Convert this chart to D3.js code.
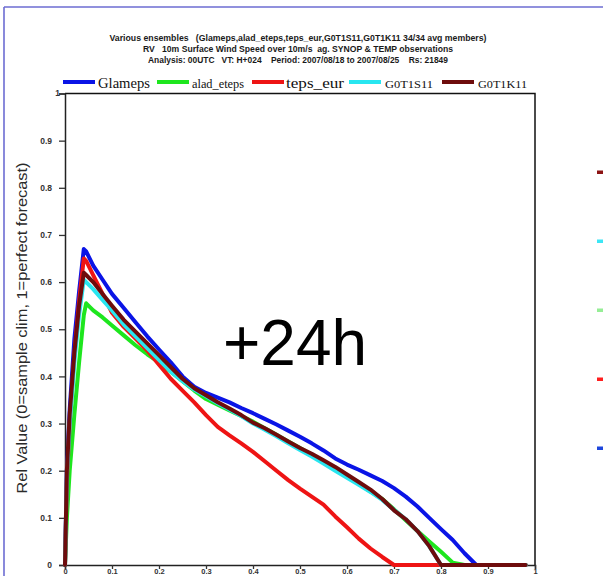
<!DOCTYPE html>
<html>
<head>
<meta charset="utf-8">
<script src="https://cdn.jsdelivr.net/npm/d3@7"></script>
<style>
  html, body { margin: 0; padding: 0; background: #ffffff; }
  svg { display: block; }
  text.pre { white-space: pre; }
</style>
</head>
<body>
<svg id="chart" width="603" height="576"></svg>
<script>
// ---------------- data ----------------
const titleLines = [
  "Various ensembles   (Glameps,alad_eteps,teps_eur,G0T1S11,G0T1K11 34/34 avg members)",
  "RV   10m Surface Wind Speed over 10m/s  ag. SYNOP & TEMP observations",
  "Analysis: 00UTC   VT: H+024    Period: 2007/08/18 to 2007/08/25    Rs: 21849"
];
const seriesNames = ["Glameps", "alad_eteps", "teps_eur", "G0T1S11", "G0T1K11"];
const seriesColors = ["#0a14e6", "#1ee61e", "#ee1414", "#28e6f0", "#6e0c0c"];
const xCost = [0, 0.004, 0.01, 0.02, 0.03, 0.04, 0.045, 0.06, 0.08, 0.1,
  0.125, 0.15, 0.175, 0.2, 0.225, 0.25, 0.275, 0.3, 0.325, 0.35,
  0.375, 0.4, 0.425, 0.45, 0.475, 0.5, 0.525, 0.55, 0.575, 0.6,
  0.625, 0.65, 0.675, 0.7, 0.725, 0.75, 0.775, 0.8, 0.825, 0.85,
  0.875, 0.9, 0.925, 0.95, 0.98];
const yGlameps = [0, 0.2, 0.33, 0.48, 0.58, 0.67, 0.665, 0.635, 0.605, 0.575,
  0.545, 0.515, 0.485, 0.457, 0.43, 0.40, 0.378, 0.365, 0.355, 0.345,
  0.333, 0.322, 0.31, 0.298, 0.285, 0.272, 0.258, 0.243, 0.226, 0.213,
  0.202, 0.19, 0.178, 0.163, 0.145, 0.124, 0.1, 0.076, 0.053, 0.025,
  0, 0, 0, 0, 0];
const yAlad = [0, 0.1, 0.2, 0.32, 0.43, 0.53, 0.555, 0.54, 0.525, 0.508,
  0.487, 0.466, 0.447, 0.43, 0.41, 0.39, 0.37, 0.352, 0.34, 0.328,
  0.316, 0.304, 0.29, 0.276, 0.262, 0.248, 0.234, 0.218, 0.202, 0.188,
  0.172, 0.156, 0.14, 0.118, 0.095, 0.072, 0.05, 0.028, 0.005, 0,
  0, 0, 0, 0, 0];
const yTeps = [0, 0.18, 0.3, 0.45, 0.56, 0.65, 0.645, 0.615, 0.575, 0.535,
  0.505, 0.48, 0.455, 0.425, 0.395, 0.37, 0.345, 0.318, 0.293, 0.275,
  0.258, 0.24, 0.22, 0.2, 0.18, 0.162, 0.145, 0.128, 0.103, 0.08,
  0.056, 0.035, 0.017, 0, 0, 0, 0, 0, 0, 0,
  0, 0, 0, 0, 0];
const yS11 = [0, 0.19, 0.3, 0.43, 0.53, 0.605, 0.6, 0.585, 0.562, 0.54,
  0.51, 0.485, 0.46, 0.435, 0.41, 0.39, 0.372, 0.358, 0.343, 0.33,
  0.316, 0.3, 0.287, 0.273, 0.258, 0.244, 0.23, 0.215, 0.2, 0.185,
  0.17, 0.155, 0.138, 0.117, 0.097, 0.072, 0.04, 0, 0, 0,
  0, 0, 0, 0, 0];
const yK11 = [0, 0.2, 0.32, 0.45, 0.55, 0.62, 0.615, 0.6, 0.575, 0.55,
  0.52, 0.495, 0.47, 0.445, 0.42, 0.395, 0.375, 0.36, 0.345, 0.332,
  0.318, 0.302, 0.29, 0.276, 0.262, 0.248, 0.236, 0.222, 0.208, 0.192,
  0.176, 0.16, 0.14, 0.116, 0.097, 0.072, 0.04, 0, 0, 0,
  0, 0, 0, 0, 0];
const seriesValues = [yGlameps, yAlad, yTeps, yS11, yK11];
const xTicks = [0, 0.1, 0.2, 0.3, 0.4, 0.5, 0.6, 0.7, 0.8, 0.9, 1];
const yTicks = [0, 0.1, 0.2, 0.3, 0.4, 0.5, 0.6, 0.7, 0.8, 0.9, 1];
const yLabel = "Rel Value (0=sample clim, 1=perfect forecast)";
const bigLabel = "+24h";
const sideMarkColors = ["#8c1414", "#3ce6f5", "#96ee96", "#ff1e1e", "#1e46dc"];

// ---------------- layout ----------------
const svg = d3.select("#chart");
const plot = { left: 65, right: 535, top: 93.5, bottom: 565 };
const x = d3.scaleLinear().domain([0, 1]).range([plot.left, plot.right]);
const y = d3.scaleLinear().domain([0, 1]).range([plot.bottom, plot.top]);
const sans = "'Liberation Sans', Arial, sans-serif";
const narrow = "'Liberation Sans Narrow', 'Liberation Sans', Arial, sans-serif";
const serif = "'Liberation Serif', 'Times New Roman', serif";

// page border
svg.append("line").attr("x1", 4).attr("x2", 603).attr("y1", 7).attr("y2", 7)
  .attr("stroke", "#6c6cd2").attr("stroke-width", 1.6);
svg.append("line").attr("x1", 4).attr("x2", 4).attr("y1", 7).attr("y2", 576)
  .attr("stroke", "#6c6cd2").attr("stroke-width", 1.6);

// title
const titleY = [41, 52, 63];
const titleW = [377, 310, 300];
titleLines.forEach((t, i) => {
  svg.append("text").attr("class", "pre").attr("x", 298).attr("y", titleY[i])
    .attr("text-anchor", "middle")
    .attr("font-family", narrow).attr("font-size", 8.5).attr("font-weight", "bold")
    .attr("fill", "#1a1a1a")
    .attr("textLength", titleW[i]).attr("lengthAdjust", "spacingAndGlyphs")
    .text(t);
});

// legend
const legLineX = [63, 157, 252, 349, 442];
const legTextX = [98, 192, 286, 385, 478];
const legTextW = [52, 52, 58, 48, 49];
const legTextSize = [15, 11.5, 15, 11, 11];
seriesNames.forEach((n, i) => {
  svg.append("line").attr("x1", legLineX[i]).attr("x2", legLineX[i] + 32)
    .attr("y1", 82).attr("y2", 82)
    .attr("stroke", seriesColors[i]).attr("stroke-width", 4);
  svg.append("text").attr("x", legTextX[i]).attr("y", 88)
    .attr("font-family", serif).attr("font-size", legTextSize[i])
    .attr("fill", "#111")
    .attr("textLength", legTextW[i]).attr("lengthAdjust", "spacingAndGlyphs")
    .text(n);
});

// frame (top and right)
svg.append("path")
  .attr("d", `M${plot.left},${plot.top}H${plot.right}V${plot.bottom}`)
  .attr("fill", "none").attr("stroke", "#111").attr("stroke-width", 1.5);

// axes
const yAxis = d3.axisLeft(y).tickValues(yTicks).tickSize(6).tickFormat(d3.format("~g"));
const gy = svg.append("g").attr("transform", `translate(${plot.left},0)`).call(yAxis);
gy.select(".domain").attr("stroke", "#222").attr("stroke-width", 1.5);
gy.selectAll(".tick line").attr("stroke", "#333").attr("stroke-width", 1.3);
gy.selectAll(".tick text")
  .attr("font-family", sans).attr("font-size", 8.5).attr("font-weight", "bold")
  .attr("fill", "#333").attr("x", -13)
  .filter(d => d === 1).attr("x", -5).attr("dy", "0.2em");

const xAxis = d3.axisBottom(x).tickValues(xTicks).tickSize(4).tickFormat(d3.format("~g"));
const gx = svg.append("g").attr("transform", `translate(0,${plot.bottom})`).call(xAxis);
gx.select(".domain").attr("stroke", "#222").attr("stroke-width", 1.5);
gx.selectAll(".tick line").attr("stroke", "#333").attr("stroke-width", 1.3);
gx.selectAll(".tick text")
  .attr("font-family", sans).attr("font-size", 7.5).attr("font-weight", "bold")
  .attr("fill", "#333").attr("y", 4);

// y label
svg.append("text")
  .attr("transform", "translate(27,328) rotate(-90)")
  .attr("text-anchor", "middle")
  .attr("font-family", sans).attr("font-size", 14)
  .attr("fill", "#2a2a2a")
  .attr("textLength", 331).attr("lengthAdjust", "spacingAndGlyphs")
  .text(yLabel);

// series lines
const line = d3.line().x(d => x(d[0])).y(d => y(d[1]));
seriesValues.forEach((vals, i) => {
  const pts = xCost.map((c, j) => [c, vals[j]]);
  svg.append("path").datum(pts)
    .attr("d", line)
    .attr("fill", "none")
    .attr("stroke", seriesColors[i])
    .attr("stroke-width", 4)
    .attr("stroke-linejoin", "round")
    .attr("stroke-linecap", "round");
});

// big lead-time label
svg.append("text").attr("x", 223).attr("y", 365)
  .attr("font-family", sans).attr("font-size", 64)
  .attr("fill", "#000")
  .attr("textLength", 144).attr("lengthAdjust", "spacingAndGlyphs")
  .text(bigLabel);

// side marks (from neighbouring panel's legend)
const sideY = [172, 241, 310, 379, 448];
sideMarkColors.forEach((c, i) => {
  svg.append("rect").attr("x", 597).attr("y", sideY[i] - 1.5)
    .attr("width", 6).attr("height", 3.5).attr("fill", c);
});
</script>
</body>
</html>
